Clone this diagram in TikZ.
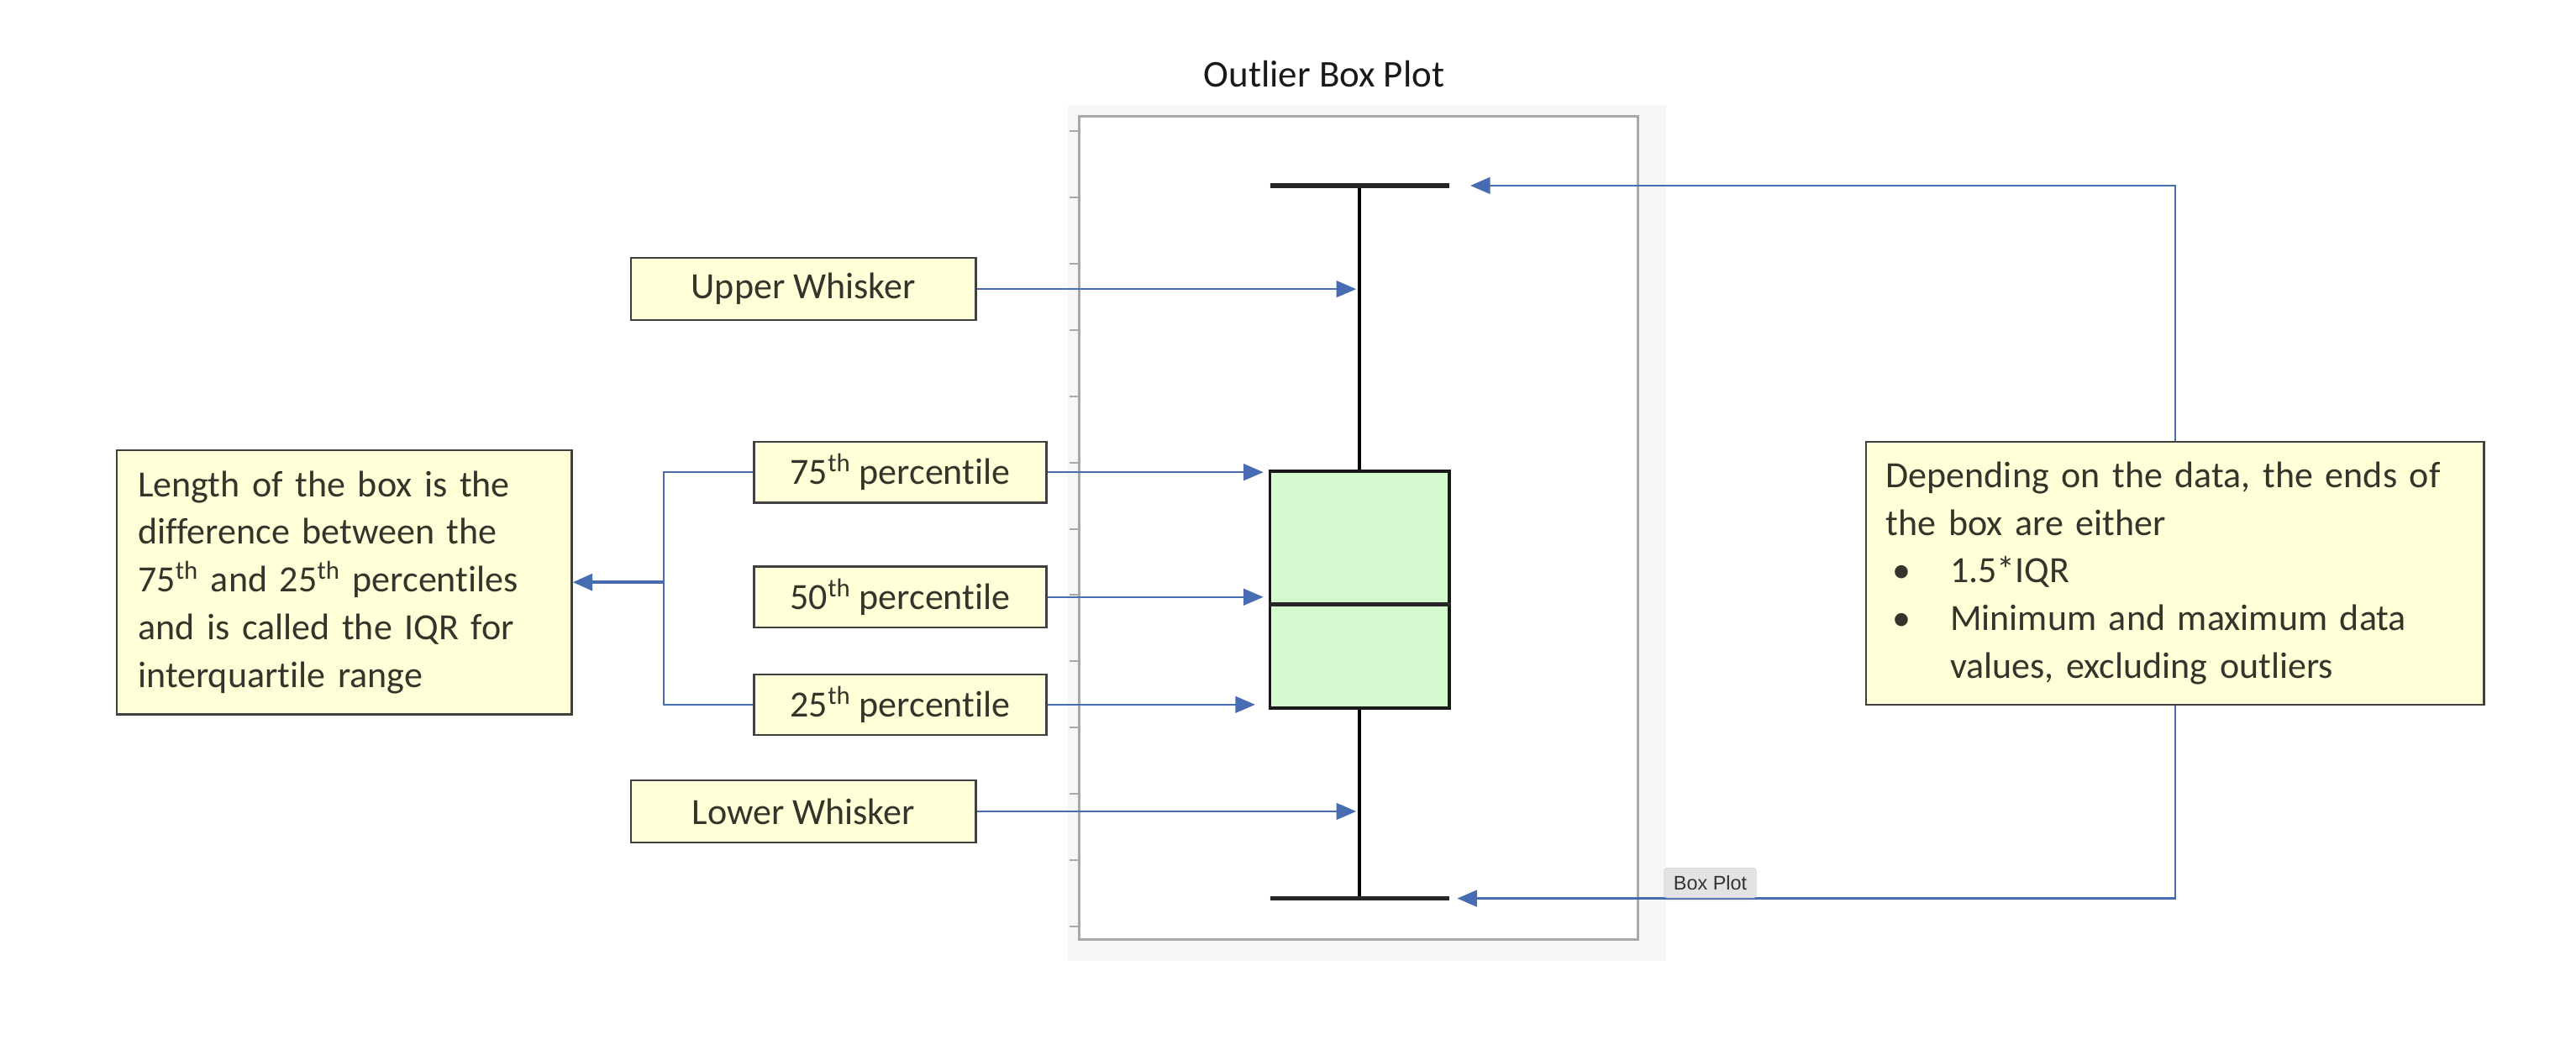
\documentclass[tikz,border=0pt]{standalone}
\usepackage{fontspec}
\setmainfont[Ligatures=NoCommon]{Carlito}
\newfontfamily\tipfont{Liberation Sans}
\usetikzlibrary{arrows.meta,shadows}
\definecolor{cyel}{RGB}{255,255,216}
\definecolor{cgreen}{RGB}{213,250,207}
\definecolor{carrow}{RGB}{72,108,178}
\definecolor{ctext}{RGB}{52,52,42}
\definecolor{cpanel}{RGB}{246,246,246}
\definecolor{cframe}{RGB}{168,168,168}
\begin{document}
\begin{tikzpicture}[x=1pt,y=-1pt,
  callout/.style={draw=black!75, line width=1.2pt, fill=cyel, text=ctext,
    font=\fontsize{22.5}{29}\selectfont, inner sep=0pt},
  arr/.style={draw=carrow, line width=1.3pt, -{Triangle[length=12pt,width=10pt]}},
  bracket/.style={draw=carrow, line width=1.3pt},
  whisk/.style={draw=black, line width=1.8pt},
  capline/.style={draw=black!85, line width=2.6pt}]
\useasboundingbox (0,0) rectangle (1568,642.3);
% title
\node[font=\fontsize{23}{28}\selectfont, text=black!90] (title) at (806,45) {Outlier Box Plot};
% plot panel
\fill[cpanel] (650,64) rectangle (1014,585);
\draw[cframe, line width=1.5pt, fill=white] (657,71) rectangle (997,572);
\foreach \i in {0,...,12}
  \draw[cframe, line width=1pt] (651,80+40.33*\i) -- (657,80+40.33*\i);
% box plot
\coordinate (topL) at (773,113);
\coordinate (topR) at (882,113);
\coordinate (botL) at (773,547);
\coordinate (botR) at (882,547);
\node[draw=black!90, line width=2pt, fill=cgreen, minimum width=109pt, minimum height=144pt, inner sep=0pt] (iqr) at (827.5,359) {};
\coordinate (med) at (827.5,368);
\draw[capline, line width=2.2pt] (iqr.west |- med) -- (iqr.east |- med);
\draw[whisk] (iqr.north) -- (iqr.north |- topL);
\draw[whisk] (iqr.south) -- (iqr.south |- botL);
\draw[capline] (topL) -- (topR);
\draw[capline] (botL) -- (botR);
% callouts
\node[callout, minimum width=210pt, minimum height=38pt] (uw) at (489,176) {Upper Whisker};
\node[callout, minimum width=178pt, minimum height=37pt] (p75) at (548,287.5) {75\textsuperscript{th} percentile};
\node[callout, minimum width=178pt, minimum height=37pt] (p50) at (548,363.5) {50\textsuperscript{th} percentile};
\node[callout, minimum width=178pt, minimum height=37pt] (p25) at (548,429) {25\textsuperscript{th} percentile};
\node[callout, minimum width=210pt, minimum height=38pt] (lw) at (489,494) {Lower Whisker};
\node[callout, minimum width=277pt, minimum height=161pt, text width=251pt, align=left] (lbox) at (209.5,354.5)
  {Length of the box is the\\ difference between the\\ 75\textsuperscript{th} and 25\textsuperscript{th} percentiles\\ and is called the IQR for\\ interquartile range};
\node[callout, minimum width=376pt, minimum height=160pt, text width=352pt, align=left] (rbox) at (1324,349)
  {Depending on the data, the ends of\\ the box are either\\
   \makebox[39pt][l]{\hspace*{4pt}•}1.5*IQR\\
   \makebox[39pt][l]{\hspace*{4pt}•}Minimum and maximum data\\
   \hspace*{39pt}values, excluding outliers};
% arrows from left callouts
\draw[arr] (uw.east) -- ([xshift=-2pt]uw.east -| iqr.north);
\draw[arr] (p75.east) -- ([xshift=-3pt]p75.east -| iqr.west);
\draw[arr] (p50.east) -- ([xshift=-3pt]p50.east -| iqr.west);
\draw[arr] (p25.east) -- ([xshift=-8pt]p25.east -| iqr.west);
\draw[arr] (lw.east) -- ([xshift=-2pt]lw.east -| iqr.south);
% bracket to IQR explanation
\coordinate (bk) at (404,354.5);
\draw[bracket] (p75.west) -| (bk |- p25.west) -- (p25.west);
\draw[arr, line width=2.2pt] (bk) -- (lbox.east);
% arrows from right callout
\draw[arr] (rbox.north) |- ([xshift=13pt]topR);
\draw[arr] (rbox.south) |- ([xshift=5pt]botR);
% tooltip
\node[fill=gray!22, draw=gray!30, rounded corners=1.5pt, drop shadow={opacity=0.12, shadow xshift=0pt, shadow yshift=-2pt},
  font=\tipfont\fontsize{12}{14}\selectfont, text=black!80, minimum width=56pt, minimum height=18pt, inner sep=0pt] (tip) at (1041,537.5) {Box Plot};
\end{tikzpicture}
\end{document}
